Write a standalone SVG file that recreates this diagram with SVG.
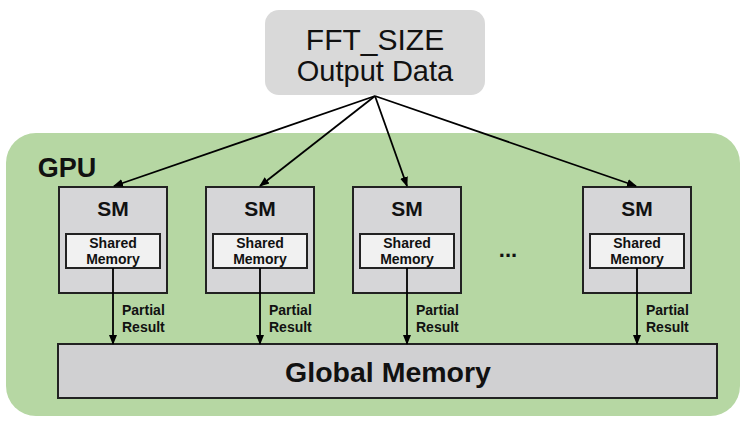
<svg xmlns="http://www.w3.org/2000/svg" width="750" height="422" viewBox="0 0 750 422">
<defs>
<marker id="ah" markerWidth="10" markerHeight="10" refX="9" refY="5" orient="auto" markerUnits="userSpaceOnUse">
<path d="M0,1 L10,5 L0,9 Z" fill="#000"/>
</marker>
<style>
.t{font-family:"Liberation Sans",Arial,sans-serif;fill:#111;text-anchor:middle}
.b{font-weight:bold}
.sm{fill:#d6d6d8;stroke:#222;stroke-width:2}
.shm{fill:#f1f1f1;stroke:#222;stroke-width:2}
.c{stroke:#000;stroke-width:1.8;fill:none;marker-end:url(#ah)}
</style>
</defs>
<rect width="750" height="422" fill="#fff"/>
<g id="gpu">
<rect x="6" y="133" width="734" height="283" rx="30" fill="#b6d7a3"/>
<text class="t b" x="67" y="177" font-size="27">GPU</text>
</g>
<g id="output">
<rect x="265" y="10" width="220" height="85" rx="14" fill="#d9d9d9"/>
<text class="t" x="375" y="50" font-size="30">FFT_SIZE</text>
<text class="t" x="375" y="81" font-size="29">Output Data</text>
</g>
<g id="sm1">
<rect class="sm" x="59" y="187" width="108" height="106"/>
<text class="t b" x="113" y="216" font-size="21">SM</text>
<rect class="shm" x="66" y="234" width="94" height="34"/>
<text class="t b" x="113" y="248" font-size="14">Shared</text>
<text class="t b" x="113" y="264" font-size="14">Memory</text>
</g>
<g id="sm2">
<rect class="sm" x="206" y="187" width="108" height="106"/>
<text class="t b" x="260" y="216" font-size="21">SM</text>
<rect class="shm" x="213" y="234" width="94" height="34"/>
<text class="t b" x="260" y="248" font-size="14">Shared</text>
<text class="t b" x="260" y="264" font-size="14">Memory</text>
</g>
<g id="sm3">
<rect class="sm" x="353" y="187" width="108" height="106"/>
<text class="t b" x="407" y="216" font-size="21">SM</text>
<rect class="shm" x="360" y="234" width="94" height="34"/>
<text class="t b" x="407" y="248" font-size="14">Shared</text>
<text class="t b" x="407" y="264" font-size="14">Memory</text>
</g>
<g id="dots">
<text class="t b" x="508" y="257" font-size="22">...</text>
</g>
<g id="sm4">
<rect class="sm" x="583" y="187" width="108" height="106"/>
<text class="t b" x="637" y="216" font-size="21">SM</text>
<rect class="shm" x="590" y="234" width="94" height="34"/>
<text class="t b" x="637" y="248" font-size="14">Shared</text>
<text class="t b" x="637" y="264" font-size="14">Memory</text>
</g>
<g id="global">
<rect x="58" y="344" width="659" height="54" fill="#d0d0d2" stroke="#222" stroke-width="2"/>
<text class="t b" x="388" y="382" font-size="28.5">Global Memory</text>
</g>
<g id="connectors">
<line class="c" x1="375" y1="96" x2="114" y2="186"/>
<line class="c" x1="375" y1="96" x2="260" y2="186"/>
<line class="c" x1="375" y1="96" x2="407" y2="186"/>
<line class="c" x1="375" y1="96" x2="636" y2="186"/>
<line class="c" x1="113" y1="268" x2="113" y2="344"/>
<line class="c" x1="260" y1="268" x2="260" y2="344"/>
<line class="c" x1="407" y1="268" x2="407" y2="344"/>
<line class="c" x1="637" y1="268" x2="637" y2="344"/>
</g>
<g id="labels" class="t b" font-size="14">
<text x="122" y="315" text-anchor="start">Partial</text>
<text x="122" y="332" text-anchor="start">Result</text>
<text x="269" y="315" text-anchor="start">Partial</text>
<text x="269" y="332" text-anchor="start">Result</text>
<text x="416" y="315" text-anchor="start">Partial</text>
<text x="416" y="332" text-anchor="start">Result</text>
<text x="646" y="315" text-anchor="start">Partial</text>
<text x="646" y="332" text-anchor="start">Result</text>
</g>
</svg>
